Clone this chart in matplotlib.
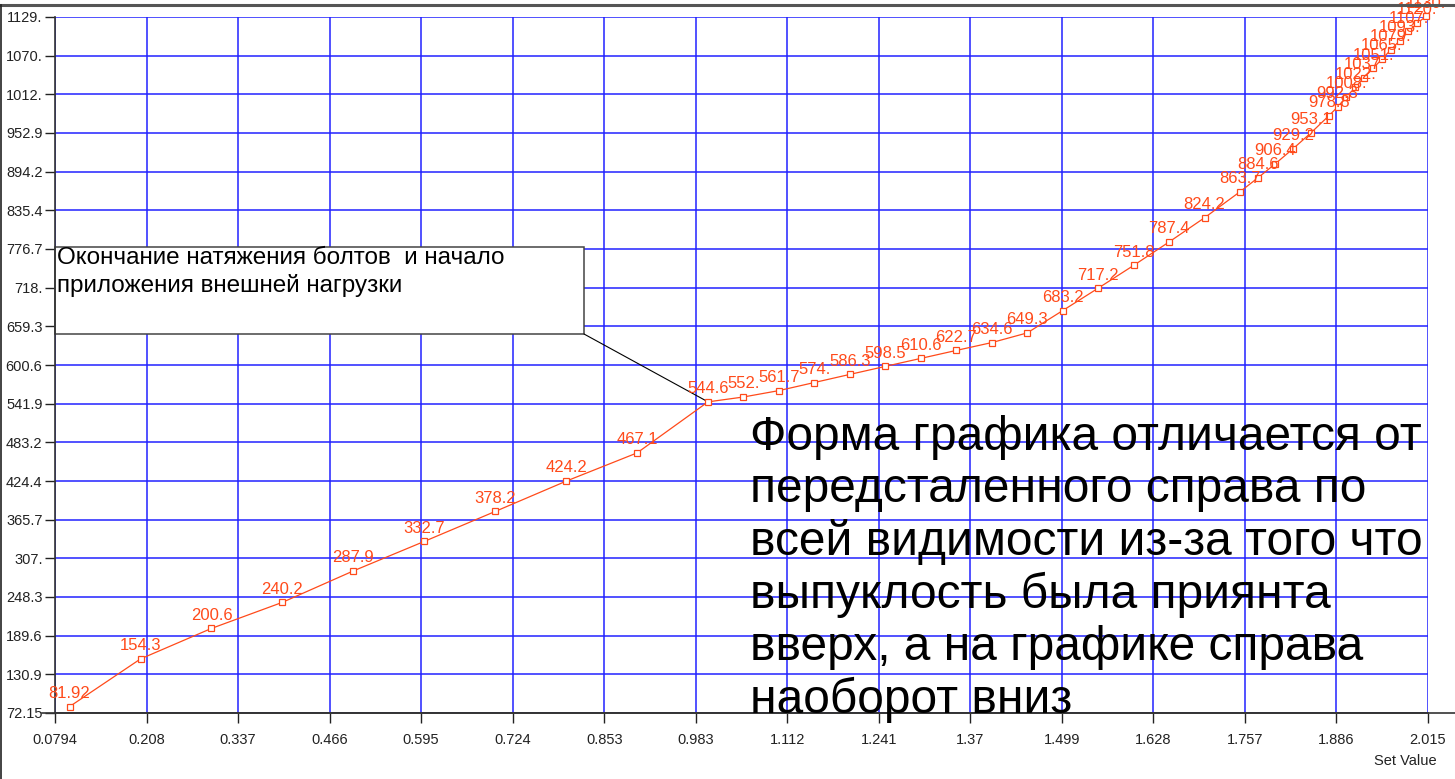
import numpy as np
import matplotlib
matplotlib.use("Agg")
import matplotlib.pyplot as plt
from matplotlib.lines import Line2D
from matplotlib.patches import Rectangle

plt.rcParams['font.family'] = ['Liberation Sans', 'DejaVu Sans']

# measured points: set value vs load
set_value = [0.1, 0.2, 0.3, 0.4, 0.5, 0.6, 0.7, 0.8, 0.9, 1.0,
             1.05, 1.1, 1.15, 1.2, 1.25, 1.3, 1.35, 1.4, 1.45, 1.5,
             1.55, 1.6, 1.65, 1.7, 1.75, 1.775, 1.8, 1.825, 1.85, 1.875,
             1.8875, 1.9, 1.9125, 1.925, 1.9375, 1.95, 1.9625, 1.975, 1.9875, 2.0,
             2.0125]
load = [81.92, 154.3, 200.6, 240.2, 287.9, 332.7, 378.2, 424.2, 467.1, 544.6,
        552, 561.7, 574, 586.3, 598.5, 610.6, 622.7, 634.6, 649.3, 683.2,
        717.2, 751.8, 787.4, 824.2, 863.7, 884.6, 906.4, 929.2, 953.1, 978.8,
        992.3, 1008, 1022, 1037, 1051, 1065, 1079, 1093, 1107, 1120,
        1130]

x_tick_labels = ['0.0794', '0.208', '0.337', '0.466', '0.595', '0.724', '0.853', '0.983',
                 '1.112', '1.241', '1.37', '1.499', '1.628', '1.757', '1.886', '2.015']
y_tick_labels = ['72.15', '130.9', '189.6', '248.3', '307.', '365.7', '424.4', '483.2',
                 '541.9', '600.6', '659.3', '718.', '776.7', '835.4', '894.2', '952.9',
                 '1012.', '1070.', '1129.']

note_text = 'Окончание натяжения болтов  и начало\nприложения внешней нагрузки'
comment_lines = ['Форма графика отличается от',
                 'передсталенного справа по',
                 'всей видимости из-за того что',
                 'выпуклость была приянта',
                 'вверх, а на графике справа',
                 'наоборот вниз']

W, H = 1455, 779
line_col = '#ff4a1a'
grid_col = '#2222ff'


def fmt(v):
    s = f"{v:.4g}"
    if '.' not in s:
        s += '.'
    return s


def fx(px):
    return px / W


def fy(py):
    return 1 - py / H


fig = plt.figure(figsize=(W / 100, H / 100), dpi=100)
ax = fig.add_axes([fx(55), fy(713), fx(1428 - 55), (713 - 17) / H])

x0, x1 = 0.0794, 2.015
y0, y1 = 72.15, 1129.0
ax.set_xlim(x0, x1)
ax.set_ylim(y0, y1)
ax.set_xticks(np.linspace(x0, x1, len(x_tick_labels)))
ax.set_xticklabels(x_tick_labels)
ax.set_yticks(np.linspace(y0, y1, len(y_tick_labels)))
ax.set_yticklabels(y_tick_labels)
ax.tick_params(axis='both', direction='out', length=7.5, width=1, colors='#222222',
               labelsize=10.5)
ax.tick_params(axis='x', pad=7)
ax.tick_params(axis='y', pad=1.5)
ax.set_axisbelow(True)
ax.grid(True, color=grid_col, lw=1.1)
for side in ['top', 'right']:
    ax.spines[side].set_visible(False)
for side in ['left', 'bottom']:
    ax.spines[side].set_color('#333333')
    ax.spines[side].set_linewidth(1.2)

ax.plot(set_value, load, color=line_col, lw=0.9, marker='s', markersize=4.2,
        markerfacecolor='white', markeredgecolor=line_col, markeredgewidth=0.9,
        clip_on=False, zorder=3)
for xv, yv in zip(set_value, load):
    ax.annotate(fmt(yv), (xv, yv), xytext=(0, 9.5), textcoords='offset points',
                ha='center', va='center', fontsize=12, color=line_col,
                annotation_clip=False, zorder=4)

# note box with leader line to the start of external loading
ax.add_patch(Rectangle((fx(55), fy(334)), fx(584 - 55), (334 - 247) / H,
                       transform=fig.transFigure, facecolor='white',
                       edgecolor='#444444', lw=1.1, zorder=1, clip_on=False))
ax.text(fx(57), fy(247), note_text, transform=fig.transFigure, ha='left', va='top',
        fontsize=17.5, linespacing=1.3, color='black', zorder=1.2)
ax.annotate('', xy=(set_value[9], load[9]), xycoords='data',
            xytext=(fx(584), fy(334)), textcoords='figure fraction',
            arrowprops=dict(arrowstyle='-', color='black', lw=0.8,
                            shrinkA=0, shrinkB=0), zorder=2)

for i, line in enumerate(comment_lines):
    fig.text(fx(750), fy(437 + i * 52.6), line, ha='left', va='center',
             fontsize=34.5, color='black')

fig.text(fx(1405), fy(761), 'Set Value', ha='center', va='center', fontsize=10.5,
         color='#222222')

# window frame and extended base line
fig.add_artist(Line2D([0, 1], [fy(5), fy(5)], color='#555555', lw=2.2))
fig.add_artist(Line2D([fx(1), fx(1)], [0, fy(5)], color='#222222', lw=1.2))
fig.add_artist(Line2D([fx(42), 1], [fy(713), fy(713)], color='#333333', lw=1.2))

fig.savefig('out.png', dpi=100)
